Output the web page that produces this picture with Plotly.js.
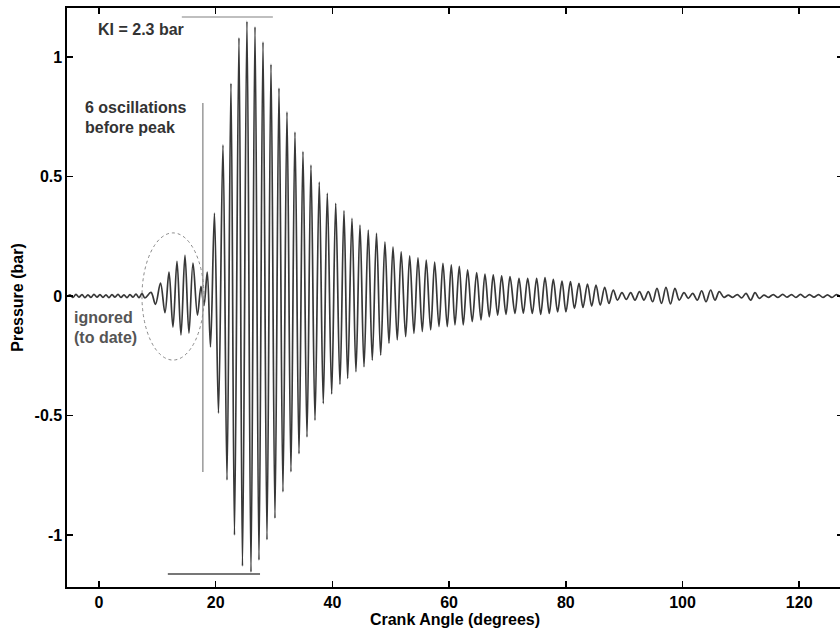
<!DOCTYPE html>
<html>
<head>
<meta charset="utf-8">
<script src="https://cdn.plot.ly/plotly-3.0.1.min.js"></script>
<style>
html, body { margin: 0; padding: 0; overflow: hidden; background: #fff; }
#chart { width: 843px; height: 633px; }
</style>
</head>
<body>
<div id="chart"></div>
<script>
// Crank angle (degrees) and pressure (bar) of the local maxima of the trace
const peakAngle = [-4.97, -3.94, -2.91, -1.89, -0.86, 0.17, 1.2, 2.23, 3.26, 4.28, 5.31, 6.34, 7.37,
  8.91, 10.54, 12.0, 13.37, 14.74, 16.11, 17.48, 18.56, 19.79, 21.25, 22.62, 23.99, 25.36, 26.74,
  28.11, 29.48, 30.85, 32.22, 33.59, 34.96, 36.33, 37.75, 39.13, 40.57, 41.99, 43.36, 44.73, 46.15,
  47.56, 49.01, 50.39, 51.79, 53.25, 54.67, 56.09, 57.53, 58.95, 60.38, 61.75, 63.18, 64.73, 66.15,
  67.57, 69.01, 70.44, 71.98, 73.47, 75.01, 76.44, 77.86, 79.35, 80.8, 82.26, 83.72, 85.18, 86.67,
  88.14, 89.63, 91.12, 92.63, 94.14, 95.63, 97.17, 98.71, 100.26, 101.75, 103.29, 104.83, 106.31,
  107.85, 109.39, 110.88, 112.43, 113.97, 115.56, 117.17, 118.68, 120.22, 121.76, 123.31, 124.85, 126.39];
const peakPressure = [0.005, 0.007, 0.006, 0.005, 0.007, 0.006, 0.005, 0.006, 0.007, 0.005, 0.006, 0.008, 0.01,
  0.015, 0.054, 0.1, 0.145, 0.17, 0.138, 0.04, 0.1, 0.347, 0.632, 0.89, 1.08, 1.15, 1.126,
  1.063, 0.97, 0.87, 0.77, 0.686, 0.605, 0.548, 0.477, 0.43, 0.388, 0.357, 0.325, 0.297, 0.276,
  0.262, 0.227, 0.206, 0.185, 0.168, 0.16, 0.15, 0.142, 0.137, 0.13, 0.124, 0.109, 0.098, 0.092,
  0.088, 0.084, 0.081, 0.074, 0.074, 0.074, 0.077, 0.07, 0.062, 0.06, 0.053, 0.05, 0.046, 0.036,
  0.025, 0.014, 0.014, 0.018, 0.018, 0.032, 0.036, 0.032, 0.014, 0.011, 0.022, 0.025, 0.018,
  0.004, 0.006, 0.011, 0.014, 0.004, 0.006, 0.007, 0.006, 0.007, 0.006, 0.006, 0.005, 0.006];

// Crank angle (degrees) and pressure (bar) of the local minima of the trace
const troughAngle = [-5.48, -4.46, -3.43, -2.4, -1.37, -0.34, 0.69, 1.71, 2.74, 3.77, 4.8, 5.83, 6.86, 7.88,
  9.68, 11.31, 12.68, 14.05, 15.42, 16.88, 17.99, 19.11, 20.48, 21.94, 23.22, 24.59, 26.05, 27.42,
  28.79, 30.16, 31.53, 32.9, 34.28, 35.65, 37.02, 38.44, 39.88, 41.3, 42.62, 44.04, 45.42, 46.84,
  48.28, 49.7, 51.12, 52.56, 53.98, 55.41, 56.85, 58.27, 59.69, 61.01, 62.43, 63.97, 65.47, 66.89,
  68.33, 69.75, 71.29, 72.72, 74.26, 75.7, 77.17, 78.6, 80.03, 81.49, 82.95, 84.44, 85.91, 87.4,
  88.86, 90.37, 91.86, 93.4, 94.89, 96.4, 97.94, 99.45, 100.99, 102.54, 104.03, 105.57, 107.11,
  108.6, 110.14, 111.69, 113.17, 114.71, 116.37, 117.91, 119.45, 120.99, 122.54, 124.08, 125.62, 127.16];
const troughPressure = [-0.003, -0.006, -0.005, -0.007, -0.006, -0.005, -0.006, -0.007, -0.005, -0.006, -0.007, -0.005, -0.007, -0.008,
  -0.035, -0.07, -0.13, -0.163, -0.155, -0.08, -0.04, -0.213, -0.49, -0.77, -1.0, -1.13, -1.155, -1.105,
  -1.02, -0.93, -0.82, -0.736, -0.66, -0.59, -0.52, -0.45, -0.41, -0.37, -0.345, -0.317, -0.296, -0.268,
  -0.247, -0.198, -0.184, -0.17, -0.156, -0.149, -0.142, -0.128, -0.128, -0.121, -0.121, -0.107, -0.1, -0.087,
  -0.08, -0.077, -0.073, -0.072, -0.073, -0.077, -0.073, -0.066, -0.066, -0.052, -0.048, -0.042, -0.038, -0.031,
  -0.017, -0.014, -0.017, -0.017, -0.024, -0.031, -0.033, -0.017, -0.01, -0.017, -0.024, -0.017, -0.006,
  -0.006, -0.008, -0.017, -0.01, -0.006, -0.006, -0.005, -0.006, -0.006, -0.005, -0.006, -0.006, -0.005];

const xTickVals = [0, 20, 40, 60, 80, 100, 120];
const xTickText = ['0', '20', '40', '60', '80', '100', '120'];
const yTickVals = [-1, -0.5, 0, 0.5, 1];
const yTickText = ['-1', '-0.5', '0', '0.5', '1'];

// merge maxima and minima into one trace ordered by crank angle
const pts = [];
peakAngle.forEach((a, i) => pts.push([a, peakPressure[i]]));
troughAngle.forEach((a, i) => pts.push([a, troughPressure[i]]));
pts.sort((p, q) => p[0] - q[0]);

const trace = {
  x: pts.map(p => p[0]),
  y: pts.map(p => p[1]),
  type: 'scatter',
  mode: 'lines',
  line: { color: '#383838', width: 1.7, shape: 'spline', smoothing: 1 },
  hoverinfo: 'skip'
};

const bold = { family: 'Liberation Sans, Arial, sans-serif', size: 16, weight: 'bold', color: '#000' };
const axisCommon = {
  showgrid: false, zeroline: false, showline: true, mirror: 'ticks',
  linecolor: '#000', linewidth: 1.6, ticks: 'inside', ticklen: 6, tickwidth: 1.6, tickcolor: '#000',
  tickfont: bold
};

const layout = {
  width: 843, height: 633,
  margin: { l: 67, r: 0, t: 8, b: 46 },
  paper_bgcolor: '#fff', plot_bgcolor: '#fff',
  showlegend: false,
  xaxis: Object.assign({}, axisCommon, {
    range: [-5.48, 127.51], tickmode: 'array', tickvals: xTickVals, ticktext: xTickText,
    title: { text: 'Crank Angle (degrees)', font: bold, standoff: 2 }
  }),
  yaxis: Object.assign({}, axisCommon, {
    range: [-1.2176, 1.205], tickmode: 'array', tickvals: yTickVals, ticktext: yTickText,
    title: { text: 'Pressure (bar)', font: bold, standoff: 7 }
  }),
  shapes: [
    { type: 'line', xref: 'x', yref: 'y', x0: 14.2, x1: 29.8, y0: 1.167, y1: 1.167,
      line: { color: '#aaaaaa', width: 1.5 } },
    { type: 'line', xref: 'x', yref: 'y', x0: 11.8, x1: 27.6, y0: -1.163, y1: -1.163,
      line: { color: '#777777', width: 2 } },
    { type: 'line', xref: 'x', yref: 'y', x0: 17.8, x1: 17.8, y0: -0.736, y1: 0.808,
      line: { color: '#999999', width: 1.5 } },
    { type: 'circle', xref: 'x', yref: 'y', x0: 7.37, x1: 18.0, y0: -0.268, y1: 0.264,
      line: { color: '#888888', width: 1, dash: 'dot' } }
  ],
  annotations: [
    { text: 'KI = 2.3 bar', x: -0.5, y: 1.117, xref: 'x', yref: 'y', xanchor: 'left', yanchor: 'middle',
      showarrow: false, font: Object.assign({}, bold, { color: '#333' }) },
    { text: '6 oscillations', x: -2.74, y: 0.787, xref: 'x', yref: 'y', xanchor: 'left', yanchor: 'middle',
      showarrow: false, font: Object.assign({}, bold, { color: '#333' }) },
    { text: 'before peak', x: -2.74, y: 0.707, xref: 'x', yref: 'y', xanchor: 'left', yanchor: 'middle',
      showarrow: false, font: Object.assign({}, bold, { color: '#333' }) },
    { text: 'ignored', x: -4.63, y: -0.088, xref: 'x', yref: 'y', xanchor: 'left', yanchor: 'middle',
      showarrow: false, font: Object.assign({}, bold, { color: '#555' }) },
    { text: '(to date)', x: -4.63, y: -0.172, xref: 'x', yref: 'y', xanchor: 'left', yanchor: 'middle',
      showarrow: false, font: Object.assign({}, bold, { color: '#555' }) }
  ]
};

Plotly.newPlot('chart', [trace], layout, { displayModeBar: false, staticPlot: true });
</script>
</body>
</html>
